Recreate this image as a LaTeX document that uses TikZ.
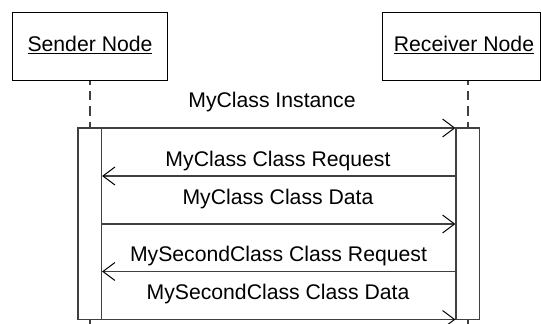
\documentclass[tikz,border=0pt]{standalone}
\usepackage{fontspec}
\setmainfont{Liberation Sans}
\usetikzlibrary{arrows.meta}
\definecolor{linegray}{HTML}{404040}
\begin{document}
\begin{tikzpicture}[x=1pt,y=-1pt,
  font=\fontsize{21.2}{25}\selectfont,
  actor/.style={draw=black, line width=1pt, inner sep=0pt,
    minimum width=158pt, minimum height=67.5pt},
  actbar/.style={draw=linegray, line width=1.2pt, inner sep=0pt,
    minimum width=23.5pt, minimum height=191.5pt},
  lifeline/.style={draw=linegray, line width=1.5pt,
    dash pattern=on 9.5pt off 6pt, dash phase=5.5pt},
  msg/.style={draw=linegray, line width=1.2pt,
    -{Straight Barb[length=12pt,width=18pt,line width=1pt,color=black]}},
  label/.style={anchor=base, inner sep=0pt}]
\useasboundingbox (0,0) rectangle (541,324);

% participants
\node[actor, minimum width=154.5pt] (sender) at (89.75,46.25) {};
\node[label] (sendername) at (90,51.5) {\underline{Sender Node}};
\node[actor] (receiver) at (461.5,46.25) {};
\node[label] (receivername) at (464,51.5) {\underline{Receiver Node}};

% activation bars
\node[actbar] (lbar) at (89.75,223.75) {};
\node[actbar] (rbar) at (467.75,223.75) {};

% lifelines
\coordinate (lend) at (89.75,324);
\coordinate (rend) at (467.75,324);
\draw[lifeline] (sender.south) -- (lbar.north);
\draw[lifeline] (receiver.south -| rbar.north) -- (rbar.north);
\draw[lifeline, dash phase=0pt] (lbar.south) -- (lend);
\draw[lifeline, dash phase=0pt] (rbar.south) -- (rend);

% message anchors on the bars
\foreach \i/\y in {1/128,2/176,3/224,4/271.5,5/319.5}{
  \coordinate (l\i) at (lbar.east |- 0,\y);
  \coordinate (r\i) at (rbar.west |- 0,\y);
}

% messages
\draw[msg] (l1) -- (r1);
\draw[msg] (r2) -- (l2);
\draw[msg] (l3) -- (r3);
\draw[msg] (r4) -- (l4);
\draw[msg] (l5) -- (r5);

\node[label] (m1) at (272,107.5) {MyClass Instance};
\node[label] (m2) at (278,166) {MyClass Class Request};
\node[label] (m3) at (278,204.5) {MyClass Class Data};
\node[label] (m4) at (278.5,261.5) {MySecondClass Class Request};
\node[label] (m5) at (278,299) {MySecondClass Class Data};
\end{tikzpicture}
\end{document}
